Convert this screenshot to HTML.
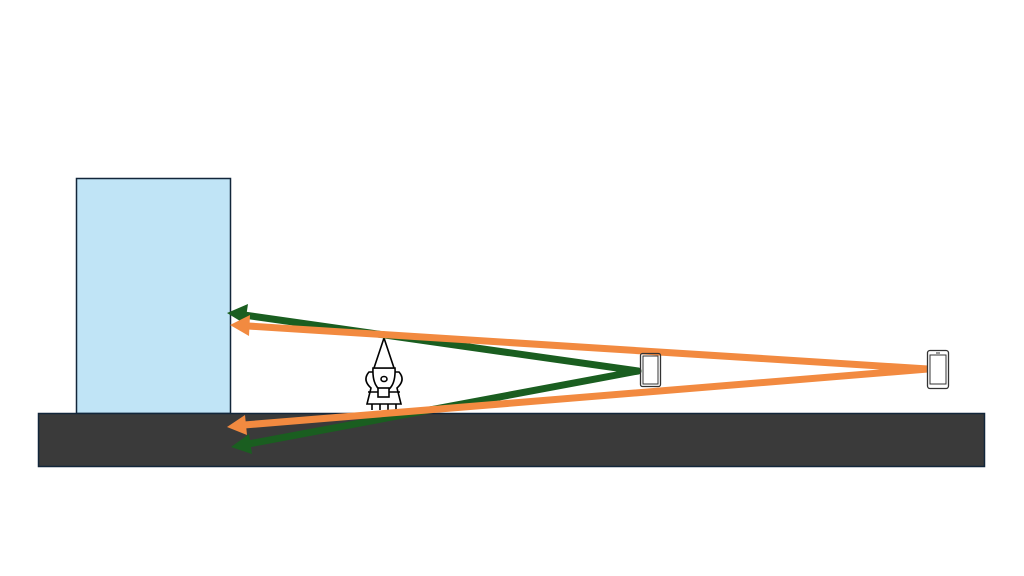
<!DOCTYPE html>
<html><head><style>html,body{margin:0;padding:0;background:#fff;}svg{display:block}</style></head>
<body>
<svg width="1024" height="576" viewBox="0 0 1024 576" xmlns="http://www.w3.org/2000/svg">
<rect x="76.5" y="178.5" width="154" height="235" fill="#c0e4f6" stroke="#12263a" stroke-width="1.5"/>
<rect x="38.5" y="413.5" width="946" height="53" fill="#3a3a3a" stroke="#12263a" stroke-width="1.5"/>
<!-- gnome -->
<g fill="#fff" stroke="#000" stroke-width="1.6">
<path d="M372,404 L372,410 M380,404 L380,410 M388,404 L388,410 M396,404 L396,410"/>
<path d="M371,388 Q362,380 369,372 L399,372 Q406,380 397,388 L401,404 L367,404 Z"/>
<path d="M373,368 Q372,388 384,392 Q396,388 395,368 Z"/>
<path d="M374,368 L384,338 L394,368 Z"/>
<rect x="378" y="388" width="11" height="9"/>
<path d="M368,392 L378,392 M389,392 L400,392"/>
<ellipse cx="384" cy="379" rx="3" ry="2.5"/>
</g>
<!-- green arrows -->
<g stroke="#1a5e20" stroke-width="7" fill="none" stroke-linecap="round">
<path d="M638,371 L244,315"/>
<path d="M638,371 L248,444"/>
</g>
<polygon points="227,313 248,304 245,324" fill="#1a5e20"/>
<polygon points="231,447 249,434 252,454" fill="#1a5e20"/>
<!-- orange arrows -->
<g stroke="#f28a40" stroke-width="7" fill="none" stroke-linecap="round">
<path d="M928,369 L248,326"/>
<path d="M928,369 L244,425"/>
</g>
<polygon points="230,325 250,315 249,336" fill="#f28a40"/>
<polygon points="227,427 245,415 247,435" fill="#f28a40"/>
<!-- phones -->
<rect x="640.5" y="353.5" width="20" height="33" rx="2" fill="none" stroke="#333" stroke-width="1.3"/>
<rect x="643" y="356" width="15" height="28" fill="none" stroke="#333" stroke-width="1"/>
<rect x="927.5" y="350.5" width="21" height="38" rx="2.5" fill="#fff" stroke="#333" stroke-width="1.3"/>
<rect x="930" y="355" width="16" height="29" fill="none" stroke="#333" stroke-width="1"/>
<line x1="936" y1="353" x2="940" y2="353" stroke="#333" stroke-width="1"/>
</svg>
</body></html>
